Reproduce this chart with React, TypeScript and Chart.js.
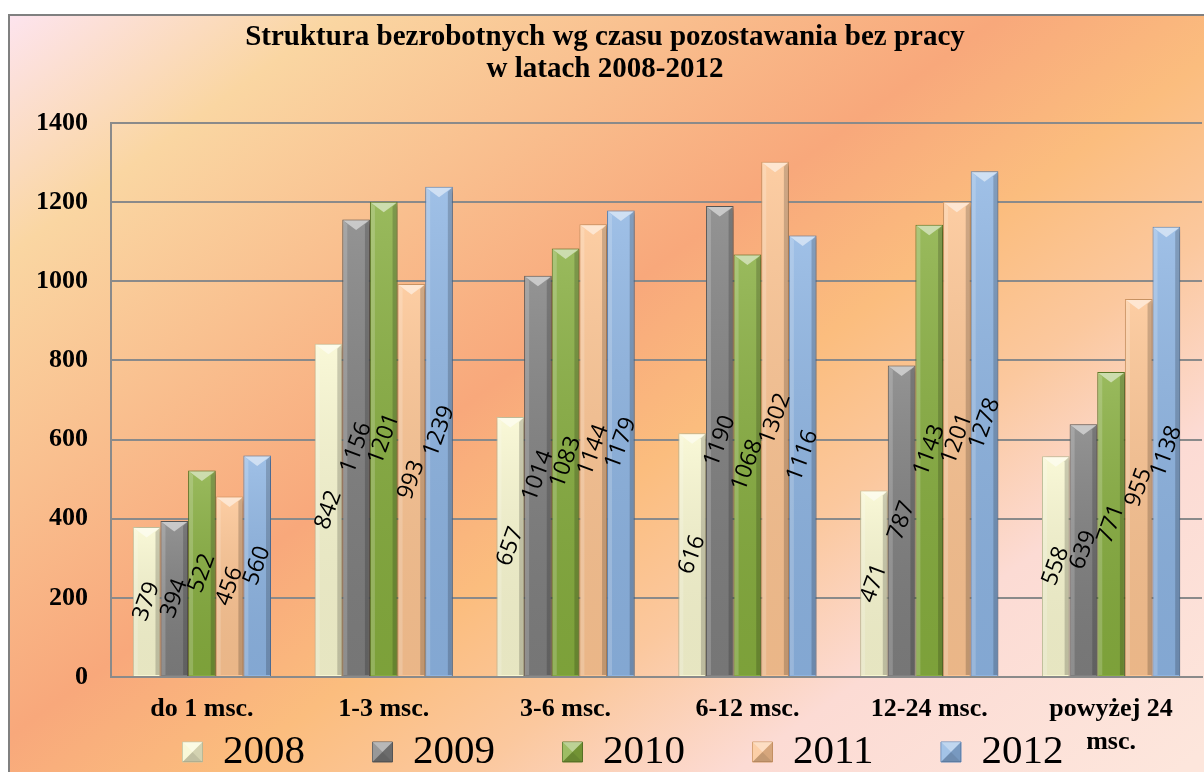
import React, { useEffect, useRef } from 'react';
import { Chart, registerables } from 'chart.js';

Chart.register(...registerables);

const categories: (string | string[])[] = ['do 1 msc.', '1-3 msc.', '3-6 msc.', '6-12 msc.', '12-24 msc.', ['powyżej 24', 'msc.']];
const years = ['2008', '2009', '2010', '2011', '2012'];
const values2008 = [379, 842, 657, 616, 471, 558];
const values2009 = [394, 1156, 1014, 1190, 787, 639];
const values2010 = [522, 1201, 1083, 1068, 1143, 771];
const values2011 = [456, 993, 1144, 1302, 1201, 955];
const values2012 = [560, 1239, 1179, 1116, 1278, 1138];
const seriesValues = [values2008, values2009, values2010, values2011, values2012];
const fillColors = ['#f8f7d0', '#7f7f7f', '#86ad3e', '#fcc492', '#8db4e2'];
const edgeColors = ['#c9c7a2', '#5b5b5b', '#5d7a28', '#d39b69', '#6089bb'];
const titleLines = ['Struktura bezrobotnych wg czasu pozostawania bez pracy', 'w latach 2008-2012'];
const yMin = 0;
const yMax = 1400;
const yStep = 200;

const SERIF = "'Liberation Serif', 'Times New Roman', serif";
const SANS = "'Open Sans', 'Noto Sans', sans-serif";

const backgroundPlugin = {
  id: 'bgFrame',
  beforeDraw(chart: any) {
    const { ctx, width, height } = chart;
    ctx.save();
    const g = ctx.createLinearGradient(0, 0, 764, 1052);
    g.addColorStop(0, '#fde4ef');
    g.addColorStop(0.15, '#fad6a2');
    g.addColorStop(0.45, '#f8a87b');
    g.addColorStop(0.57, '#fbbd7e');
    g.addColorStop(0.68, '#fbc89e');
    g.addColorStop(0.8, '#fcdbd4');
    g.addColorStop(1, '#fde6dc');
    ctx.fillStyle = g;
    ctx.fillRect(0, 0, width, height);
    ctx.strokeStyle = '#808080';
    ctx.lineWidth = 2;
    ctx.strokeRect(1, 1, width, height);
    ctx.restore();
  },
};

const layoutTweakPlugin = {
  id: 'layoutTweak',
  afterLayout(chart: any) {
    const xs = chart.scales && chart.scales.x;
    if (xs) {
      xs.bottom = chart.height;
    }
    const lg = chart.legend;
    if (!lg) return;
    lg.top = 650;
    lg.bottom = chart.height;
    lg.height = lg.bottom - lg.top;
    lg.left += 18;
    lg.right += 18;
  },
  afterDraw(chart: any) {
    const lg = chart.legend;
    if (!lg || !lg.legendHitBoxes) return;
    const ctx = chart.ctx;
    const fs = 41;
    const bw = 20;
    ctx.save();
    lg.legendHitBoxes.forEach((hb: any) => {
      const x0 = hb.left;
      const y0 = hb.top + (fs - bw) / 2;
      const cx = x0 + bw / 2;
      const cy = y0 + bw / 2;
      const tri = (pts: number[][], col: string) => {
        ctx.beginPath();
        ctx.moveTo(pts[0][0], pts[0][1]);
        for (let i = 1; i < pts.length; i++) ctx.lineTo(pts[i][0], pts[i][1]);
        ctx.closePath();
        ctx.fillStyle = col;
        ctx.fill();
      };
      tri([[x0, y0], [x0 + bw, y0], [cx, cy]], 'rgba(255,255,255,0.45)');
      tri([[x0, y0], [x0, y0 + bw], [cx, cy]], 'rgba(255,255,255,0.2)');
      tri([[x0 + bw, y0], [x0 + bw, y0 + bw], [cx, cy]], 'rgba(0,0,0,0.15)');
      tri([[x0, y0 + bw], [x0 + bw, y0 + bw], [cx, cy]], 'rgba(0,0,0,0.22)');
    });
    ctx.restore();
  },
};

const barEffectsPlugin = {
  id: 'barEffects',
  beforeDatasetsDraw(chart: any) {
    const ctx = chart.ctx;
    ctx.save();
    ctx.shadowColor = 'rgba(0,0,0,0.35)';
    ctx.shadowBlur = 5;
    ctx.shadowOffsetX = 2;
    ctx.shadowOffsetY = 2;
  },
  afterDatasetsDraw(chart: any) {
    const ctx = chart.ctx;
    ctx.restore();
    ctx.save();
    const poly = (pts: number[][], col: any) => {
      ctx.beginPath();
      ctx.moveTo(pts[0][0], pts[0][1]);
      for (let i = 1; i < pts.length; i++) ctx.lineTo(pts[i][0], pts[i][1]);
      ctx.closePath();
      ctx.fillStyle = col;
      ctx.fill();
    };
    chart.data.datasets.forEach((_ds: any, di: number) => {
      const meta = chart.getDatasetMeta(di);
      meta.data.forEach((el: any) => {
        const p = el.getProps(['x', 'y', 'base', 'width'], true);
        const w = p.width;
        const x0 = p.x - w / 2;
        const x1 = p.x + w / 2;
        const top = Math.min(p.y, p.base);
        const bot = Math.max(p.y, p.base);
        const b = Math.min(5, w * 0.2);
        const vg = ctx.createLinearGradient(0, top, 0, bot);
        vg.addColorStop(0, 'rgba(255,255,255,0.16)');
        vg.addColorStop(1, 'rgba(0,0,0,0.07)');
        poly([[x0 + 1, top + 1], [x1 - 1, top + 1], [x1 - 1, bot - 1], [x0 + 1, bot - 1]], vg);
        poly([[x0 + 1, top + 1], [x0 + b, top + b], [x0 + b, bot - 1], [x0 + 1, bot - 1]], 'rgba(255,255,255,0.18)');
        poly([[x1 - 1, top + 1], [x1 - b, top + b], [x1 - b, bot - 1], [x1 - 1, bot - 1]], 'rgba(0,0,0,0.18)');
        poly([[x0 + 1, top + 1], [x1 - 1, top + 1], [p.x, top + w * 0.38]], 'rgba(255,255,255,0.5)');
      });
    });
    ctx.restore();

    ctx.save();
    ctx.font = `23px ${SANS}`;
    ctx.fillStyle = '#000000';
    ctx.textAlign = 'center';
    ctx.textBaseline = 'middle';
    chart.data.datasets.forEach((ds: any, di: number) => {
      const meta = chart.getDatasetMeta(di);
      meta.data.forEach((el: any, i: number) => {
        const p = el.getProps(['x', 'y', 'base'], true);
        const cy = (p.y + p.base) / 2;
        ctx.save();
        ctx.translate(p.x, cy);
        ctx.rotate((-70 * Math.PI) / 180);
        ctx.fillText(String(ds.data[i]), 0, 0);
        ctx.restore();
      });
    });
    ctx.restore();
  },
};

export default function App() {
  const canvasRef = useRef<HTMLCanvasElement | null>(null);

  useEffect(() => {
    const canvas = canvasRef.current;
    if (!canvas) return;
    const chart = new Chart(canvas, {
      type: 'bar',
      data: {
        labels: categories as any,
        datasets: years.map((yr, i) => ({
          label: yr,
          data: seriesValues[i],
          backgroundColor: fillColors[i],
          borderColor: edgeColors[i],
          borderWidth: 1,
          categoryPercentage: 0.76,
          barPercentage: 1.0,
        })),
      },
      options: {
        responsive: false,
        animation: false,
        devicePixelRatio: 1,
        layout: { padding: { left: 0, right: 26, top: 0, bottom: 0 } },
        plugins: {
          title: {
            display: true,
            text: titleLines,
            color: '#000000',
            font: { family: SERIF, size: 29, weight: 'bold', lineHeight: 32 / 29 },
            padding: { top: 8, bottom: 37 },
          },
          legend: {
            display: true,
            position: 'bottom',
            maxHeight: 50,
            labels: {
              boxWidth: 20,
              boxHeight: 20,
              padding: 67.5,
              color: '#000000',
              font: { family: SERIF, size: 41, weight: 'normal' },
            },
          },
          tooltip: { enabled: false },
        },
        scales: {
          x: {
            grid: { display: false, drawTicks: false },
            border: { display: true, color: '#8a8a8a', width: 2 },
            ticks: {
              color: '#000000',
              font: { family: SERIF, size: 26, weight: 'bold', lineHeight: 33 / 26 },
              padding: 15.5,
              maxRotation: 0,
              minRotation: 0,
              autoSkip: false,
            },
            afterFit(scale: any) {
              scale.height = 59;
            },
          },
          y: {
            min: yMin,
            max: yMax,
            grid: { color: '#8a8a8a', lineWidth: 2, drawTicks: false },
            border: { display: true, color: '#8a8a8a', width: 2 },
            ticks: {
              stepSize: yStep,
              color: '#000000',
              padding: 23,
              font: { family: SERIF, size: 26, weight: 'bold' },
              callback: (v: any) => String(v),
            },
            afterFit(scale: any) {
              scale.width = 103;
            },
          },
        },
      },
      plugins: [backgroundPlugin, layoutTweakPlugin, barEffectsPlugin],
    } as any);
    return () => chart.destroy();
  }, []);

  return (
    <div style={{ position: 'fixed', left: 8, top: 14, right: 0, bottom: 0, overflow: 'hidden' }}>
      <canvas ref={canvasRef} width={1220} height={772} style={{ display: 'block', width: 1220, height: 772 }} />
    </div>
  );
}
